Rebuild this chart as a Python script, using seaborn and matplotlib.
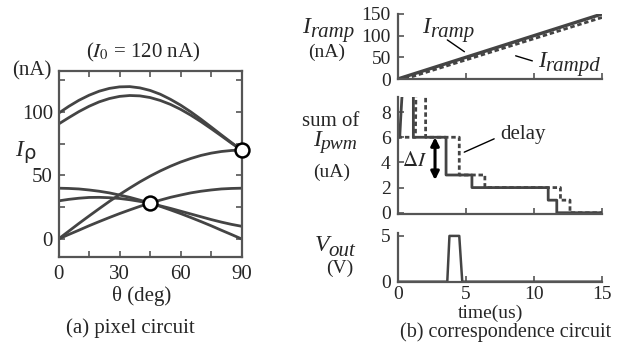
import matplotlib
matplotlib.use("Agg")
import matplotlib.pyplot as plt
import seaborn as sns

# ---------------- data ----------------
theta = [0, 5, 10, 15, 20, 25, 30, 35, 40, 45, 50, 55, 60, 65, 70, 75, 80, 85, 90]
ip_top1 = [99.0, 104.4, 109.2, 113.2, 116.4, 118.6, 119.8, 120.0, 119.0, 117.0, 114.0,
           110.0, 105.4, 100.1, 94.3, 88.2, 82.0, 75.9, 70.0]
ip_top2 = [90.5, 95.5, 100.3, 104.5, 108.0, 110.6, 112.3, 113.0, 112.7, 111.4, 109.1,
           106.0, 102.1, 97.5, 92.4, 86.9, 81.2, 75.4, 70.0]
ip_rise70 = [0.0, 6.1, 12.2, 18.1, 23.9, 29.6, 35.0, 40.1, 45.0, 49.5, 53.6, 57.3,
             60.6, 63.4, 65.8, 67.6, 68.9, 69.7, 70.0]
ip_rise40 = [0.0, 3.5, 6.9, 10.4, 13.7, 16.9, 20.0, 22.9, 25.7, 28.3, 30.6, 32.8,
             34.6, 36.3, 37.6, 38.6, 39.4, 39.8, 40.0]
ip_fall40 = [40.0, 39.8, 39.4, 38.6, 37.6, 36.3, 34.6, 32.8, 30.6, 28.3, 25.7, 22.9,
             20.0, 16.9, 13.7, 10.4, 6.9, 3.5, 0.0]
ip_flat = [30.0, 31.2, 32.1, 32.7, 32.8, 32.5, 31.9, 30.9, 29.6, 28.0, 26.1, 24.1,
           21.9, 19.7, 17.5, 15.3, 13.3, 11.5, 10.0]
circle_theta = [45, 90]
circle_ip = [28, 70]

t_ramp = [0, 15]
i_ramp = [0, 150]
t_rampd = [0, 0.5, 15]
i_rampd = [0, 0, 142]

t_pwm = [0, 0.15, 0.22, 0.3, 0.4, 1.15, 1.15, 3.55, 3.55, 5.45, 5.45, 11.05, 11.05,
         11.68, 11.68, 15]
i_pwm = [6, 6, 7.5, 9, 10.5, 10.5, 6, 6, 3, 3, 2, 2, 1, 1, 0, 0]
t_pwmd = [0, 1.3, 1.35, 2.05, 2.05, 4.52, 4.52, 6.4, 6.4, 11.95, 11.95, 12.65, 12.65, 15]
i_pwmd = [6, 6, 10.5, 10.5, 6, 6, 3, 3, 2, 2, 1, 1, 0, 0]

t_vout = [0, 3.64, 3.8, 4.52, 4.74, 15]
v_out = [0, 0, 5, 5, 0, 0]

# ---------------- style ----------------
sns.set_style("ticks")
plt.rcParams["font.family"] = ["Liberation Serif", "DejaVu Serif"]
plt.rcParams["mathtext.fontset"] = "stix"
plt.rcParams["axes.linewidth"] = 1.4
FS = 15
TS = 14
LC = "#444444"
SC = "#555555"

W, H = 621, 344
fig = plt.figure(figsize=(W / 100, H / 100), dpi=100)
renderer = fig.canvas.get_renderer()


def ax_px(x0, x1, ytop, ybot):
    return fig.add_axes([x0 / W, 1 - ybot / H, (x1 - x0) / W, (ybot - ytop) / H])


def ftext(x, y, s, size=FS, **kw):
    fig.text(x / W, 1 - y / H, s, ha="center", va="center", fontsize=size, **kw)


def sub_text(xc, ybase, main, sub, size=17, subsize=15, dy=4, sub_family=None):
    t1 = fig.text(0, 0, main, fontsize=size, style="italic", ha="left", va="baseline")
    kw = dict(fontsize=subsize, ha="left", va="baseline")
    if sub_family:
        kw["family"] = sub_family
    else:
        kw["style"] = "italic"
    t2 = fig.text(0, 0, sub, **kw)
    w1 = t1.get_window_extent(renderer).width
    w2 = t2.get_window_extent(renderer).width
    x0 = xc - (w1 + w2) / 2
    t1.set_position((x0 / W, 1 - ybase / H))
    t2.set_position(((x0 + w1) / W, 1 - (ybase + dy) / H))


# ---------------- (a) pixel circuit ----------------
ax = ax_px(58.5, 241.7, 71, 256.5)
for ys in [ip_top1, ip_top2, ip_rise70, ip_rise40, ip_fall40, ip_flat]:
    sns.lineplot(x=theta, y=ys, ax=ax, color=LC, lw=2.0, estimator=None, sort=False)
sns.scatterplot(x=circle_theta, y=circle_ip, ax=ax, s=100, facecolor="white",
                edgecolor="black", linewidth=1.8, zorder=5, clip_on=False)
ax.set_xlim(0, 90)
ax.set_ylim(-13.8, 132.3)
ax.set_xticks([0, 30, 60, 90])
ax.set_xticks([15, 45, 75], minor=True)
ax.set_yticks([0, 50, 100])
ax.set_yticks([25, 75, 125], minor=True)
ax.tick_params(which="both", direction="in", top=True, right=True, length=4,
               width=1.2, color=SC, labelsize=FS)
ax.tick_params(axis="x", pad=6)
ax.tick_params(axis="y", pad=4)
for s in ax.spines.values():
    s.set_color(SC)
    s.set_linewidth(1.6)

ftext(143, 52, r"($I_0$ = 120 nA)")
ftext(32, 71, "(nA)")
sub_text(25, 156, "I", "ρ", size=17, subsize=14, dy=3, sub_family="DejaVu Sans")
ftext(142, 296, "θ (deg)")
ftext(130, 328, "(a) pixel circuit")


# ---------------- (b) top: ramp ----------------
def style_right(a):
    sns.despine(ax=a)
    a.set_xlim(0, 15)
    a.set_xticks([0, 5, 10, 15])
    a.tick_params(direction="in", length=4, width=1.2, color=SC, labelsize=TS)
    a.tick_params(axis="x", pad=3)
    a.tick_params(axis="y", pad=5)
    for k in ["left", "bottom"]:
        a.spines[k].set_color(SC)
        a.spines[k].set_linewidth(1.6)


ax1 = ax_px(397.7, 602, 14, 79)
sns.lineplot(x=t_ramp, y=i_ramp, ax=ax1, color=LC, lw=2.4, estimator=None, sort=False)
sns.lineplot(x=t_rampd, y=i_rampd, ax=ax1, color=LC, lw=2.0, estimator=None, sort=False,
             linestyle=(0, (1.6, 1.0)))
style_right(ax1)
ax1.set_ylim(0, 150)
ax1.set_yticks([0, 50, 100, 150])
ax1.set_xticklabels([])
ax1.annotate("", xy=(466.7 / W, 1 - 53.3 / H), xytext=(445 / W, 1 - 38.3 / H),
             xycoords="figure fraction", arrowprops=dict(arrowstyle="-", color="black", lw=1))
ax1.annotate("", xy=(513 / W, 1 - 55 / H), xytext=(535 / W, 1 - 61.7 / H),
             xycoords="figure fraction", arrowprops=dict(arrowstyle="-", color="black", lw=1))
sub_text(448, 33, "I", "ramp")
sub_text(569, 67, "I", "rampd")
sub_text(328, 33, "I", "ramp")
ftext(327, 52, "(nA)", size=TS)

# ---------------- (b) middle: sum of Ipwm ----------------
ax2 = ax_px(397.7, 602, 97, 214)
sns.lineplot(x=t_pwm, y=i_pwm, ax=ax2, color=LC, lw=2.0, estimator=None, sort=False)
sns.lineplot(x=t_pwmd, y=i_pwmd, ax=ax2, color=LC, lw=2.0, estimator=None, sort=False,
             linestyle=(0, (1.6, 1.0)))
style_right(ax2)
ax2.set_ylim(-0.1, 9.2)
ax2.set_yticks([0, 2, 4, 6, 8])
ax2.set_xticklabels([])
ax2.annotate("", xy=(2.74, 2.6), xytext=(2.74, 6.0),
             arrowprops=dict(arrowstyle="<|-|>", color="black", lw=2.2,
                             mutation_scale=12, shrinkA=0, shrinkB=0))
ax2.annotate("", xy=(461.7 / W, 1 - 153.3 / H), xytext=(496.7 / W, 1 - 137.7 / H),
             xycoords="figure fraction", arrowprops=dict(arrowstyle="-", color="black", lw=1))
ftext(415, 162, r"$\Delta I$")
ftext(523, 134, "delay")
ftext(331, 122, "sum of")
sub_text(335, 146, "I", "pwm", subsize=14, dy=3)
ftext(332, 172, "(uA)", size=TS)

# ---------------- (b) bottom: Vout ----------------
ax3 = ax_px(397.7, 602, 232.7, 281.7)
sns.lineplot(x=t_vout, y=v_out, ax=ax3, color=LC, lw=1.8, estimator=None, sort=False)
style_right(ax3)
ax3.set_ylim(0, 5.35)
ax3.set_yticks([0, 5])
sub_text(335, 251, "V", "out", dy=5)
ftext(340, 268, "(V)", size=TS)
ftext(490, 313, "time(us)", size=TS)
ftext(506, 332, "(b) correspondence circuit", size=14.5)

for a in [ax, ax1, ax2, ax3]:
    a.set_xlabel("")
    a.set_ylabel("")

fig.savefig("out.png", dpi=100)
